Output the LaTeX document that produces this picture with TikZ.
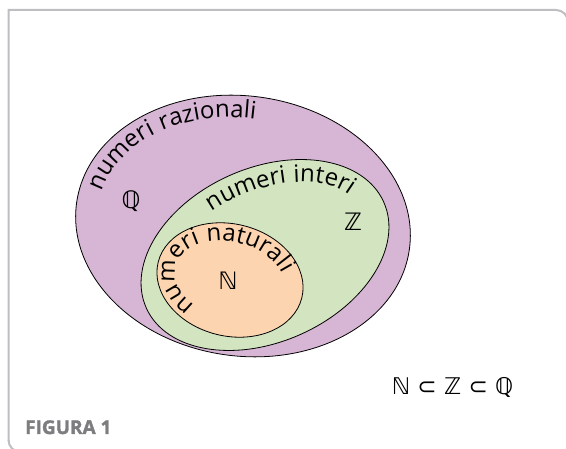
\documentclass[tikz,border=0pt]{standalone}
\usepackage{fontspec}
\setmainfont{Open Sans}
\newfontfamily\figfont{Open Sans}[FakeBold=1.6]
\newfontfamily\curvefont[LetterSpace=4]{Open Sans}
\newfontfamily\symfont{DejaVu Sans}
\usetikzlibrary{decorations.text}
\definecolor{qfill}{RGB}{215,181,212}
\definecolor{zfill}{RGB}{211,228,192}
\definecolor{nfill}{RGB}{252,213,176}
\definecolor{framegray}{RGB}{190,190,194}
\definecolor{labelgray}{RGB}{125,125,128}
\tikzset{
  setline/.style={draw=black, line width=0.8pt},
  symlabel/.style={font=\symfont\fontsize{24}{28}\selectfont, inner sep=0pt},
  curvetext/.style={decorate, decoration={text along path, text align=center,
      text={|\curvefont\fontsize{24}{24}\selectfont|#1}}},
  framestyle/.style={draw=framegray, line width=2pt},
}
\begin{document}
\begin{tikzpicture}[x=1pt,y=1pt]
\useasboundingbox (0,0) rectangle (566,-449);
% frame
\draw[framestyle] (8.5,-441) -- (8.5,-10) -- (556,-10) arc[start angle=90, end angle=0, radius=12pt] -- (568,-80);
\draw[framestyle] (8.5,-440) arc[start angle=180, end angle=270, radius=12pt] -- (80,-452);
% rational numbers
\begin{scope}[shift={(243,-226)}, rotate=-8]
  \draw[setline, fill=qfill] (0,0) ellipse [x radius=168pt, y radius=130pt];
  \path[curvetext={numeri razionali}] (211:146pt and 108pt) arc[start angle=211, end angle=61, x radius=146pt, y radius=108pt];
\end{scope}
% integers
\begin{scope}[shift={(265,-255)}, rotate=24]
  \draw[setline, fill=zfill] (0,0) ellipse [x radius=130pt, y radius=87pt];
  \path[curvetext={numeri interi}] (136:107pt and 64pt) arc[start angle=136, end angle=-24, x radius=107pt, y radius=64pt];
\end{scope}
% natural numbers
\begin{scope}[shift={(230,-280)}, rotate=-14]
  \draw[setline, fill=nfill] (0,0) ellipse [x radius=74pt, y radius=56pt];
  \path[curvetext={numeri naturali}] (267:56pt and 38pt) arc[start angle=267, end angle=-8, x radius=56pt, y radius=38pt];
\end{scope}
% symbols
\node[symlabel] (Q) at (131,-201) {ℚ};
\node[symlabel] (Z) at (353,-222) {ℤ};
\node[symlabel] (N) at (228,-281) {ℕ};
\node[symlabel, anchor=base, font=\symfont\fontsize{23}{26}\selectfont] (incl) at (452.5,-395) {ℕ ⊂ ℤ ⊂ ℚ};
\node[anchor=base west, inner sep=0pt, text=labelgray, font=\figfont\bfseries\fontsize{19}{20}\selectfont] (fig) at (25,-434) {FIGURA 1};
\end{tikzpicture}
\end{document}
